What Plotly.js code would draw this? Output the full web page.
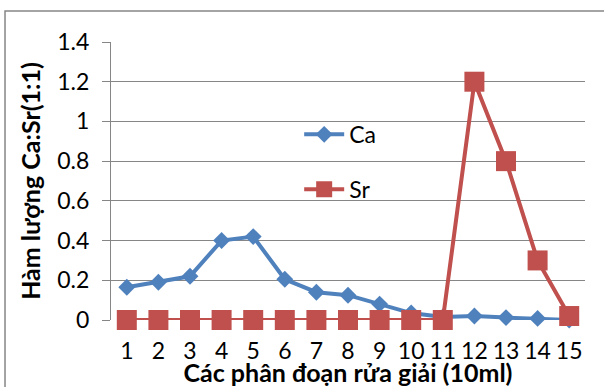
<!DOCTYPE html>
<html>
<head>
<meta charset="utf-8">
<script src="https://cdn.plot.ly/plotly-3.0.1.min.js"></script>
<style>
html,body{margin:0;padding:0;background:#fff;}
#chart{width:604px;height:387px;}
</style>
</head>
<body>
<div id="chart"></div>
<script>
const categories = ["1","2","3","4","5","6","7","8","9","10","11","12","13","14","15"];
const caValues = [0.165, 0.19, 0.22, 0.40, 0.42, 0.205, 0.14, 0.125, 0.08, 0.035, 0.015, 0.02, 0.012, 0.008, 0.0];
const srValues = [0, 0, 0, 0, 0, 0, 0, 0, 0, 0, 0, 1.2, 0.8, 0.3, 0.02];
const yTicks = [0, 0.2, 0.4, 0.6, 0.8, 1, 1.2, 1.4];
const yTickText = ["0", "0.2", "0.4", "0.6", "0.8", "1", "1.2", "1.4"];

const FONT = "Lato, 'Open Sans', sans-serif";
const traces = [
  {
    x: categories, y: caValues, name: "Ca", type: "scatter", mode: "lines+markers",
    line: {color: "#4F81BD", width: 4},
    marker: {symbol: "diamond", size: 13, color: "#4F81BD"},
    legendgroup: "a", cliponaxis: false
  },
  {
    x: categories, y: srValues, name: "Sr", type: "scatter", mode: "lines+markers",
    line: {color: "#C0504D", width: 4},
    marker: {symbol: "square", size: 20, color: "#C0504D"},
    legendgroup: "b", cliponaxis: false
  }
];

const layout = {
  width: 604, height: 387,
  margin: {l: 111, r: 19, t: 42, b: 67},
  paper_bgcolor: "#fff", plot_bgcolor: "#fff",
  font: {family: FONT, color: "#000", size: 22},
  showlegend: true,
  legend: {x: 0.397, y: 0.745, xanchor: "left", yanchor: "top", bgcolor: "rgba(0,0,0,0)",
           font: {size: 23, family: FONT}, tracegroupgap: 22, itemwidth: 40},
  xaxis: {
    type: "category", range: [-0.5, 14.5], showgrid: false, zeroline: false,
    showline: false, ticks: "", tickfont: {size: 23, family: FONT},
    ticklabelstandoff: 15,
    title: {text: "Các phân đoạn rửa giải (10ml)", font: {size: 25, family: FONT, weight: 700}, standoff: 0},
    fixedrange: true
  },
  yaxis: {
    range: [0, 1.4], tickvals: yTicks, ticktext: yTickText,
    showgrid: true, gridcolor: "#868686", gridwidth: 1,
    zeroline: false, showline: true, linecolor: "#868686", linewidth: 1,
    ticks: "outside", ticklen: 8, tickcolor: "#868686",
    tickfont: {size: 23, family: FONT}, ticklabelstandoff: 8,
    title: {text: "Hàm lượng Ca:Sr(1:1)", font: {size: 25, family: FONT, weight: 700}, standoff: 9},
    fixedrange: true
  },
  shapes: [
    {type: "rect", xref: "paper", yref: "paper", x0: -0.2236, x1: 1.2, y0: -0.4, y1: 1.1115,
     line: {color: "#868686", width: 1.5}, fillcolor: "rgba(0,0,0,0)", layer: "below"}
  ]
};

Plotly.newPlot("chart", traces, layout, {displayModeBar: false, staticPlot: true});
</script>
</body>
</html>
